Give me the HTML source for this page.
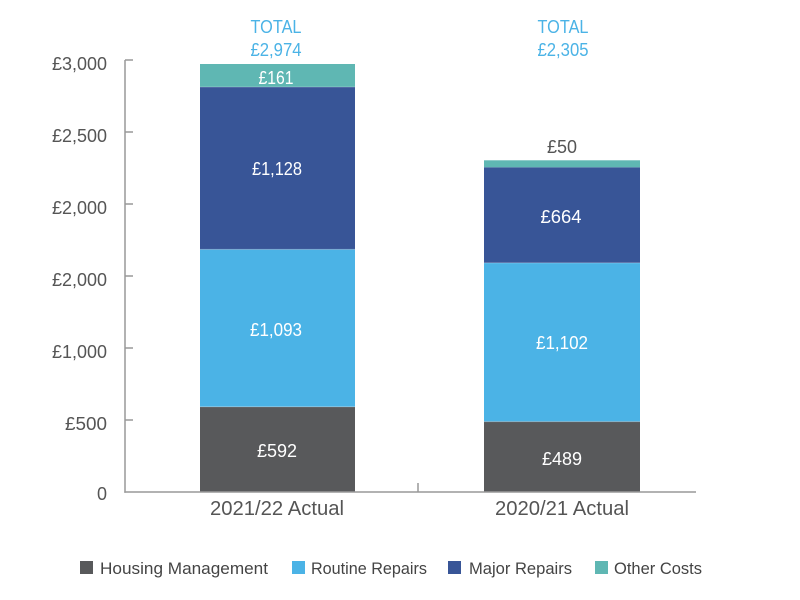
<!DOCTYPE html>
<html><head><meta charset="utf-8"><style>
html,body{margin:0;padding:0;background:#fff;}
svg{display:block;font-family:"Liberation Sans",sans-serif;}
</style></head><body>
<svg width="800" height="600" viewBox="0 0 800 600" xmlns="http://www.w3.org/2000/svg">
<!-- bars -->
<rect x="200" y="406.8" width="155" height="85.2" fill="#58595b"/>
<rect x="200" y="249.4" width="155" height="157.4" fill="#4bb3e6"/>
<rect x="200" y="87" width="155" height="162.4" fill="#385597"/>
<rect x="200" y="64" width="155" height="23" fill="#5fb7b3"/>
<line x1="200" y1="406.8" x2="355" y2="406.8" stroke="#fff" stroke-opacity="0.25" stroke-width="1"/>
<line x1="200" y1="249.4" x2="355" y2="249.4" stroke="#fff" stroke-opacity="0.25" stroke-width="1"/>
<line x1="200" y1="87" x2="355" y2="87" stroke="#fff" stroke-opacity="0.25" stroke-width="1"/>

<rect x="484" y="421.6" width="156" height="70.4" fill="#58595b"/>
<rect x="484" y="262.9" width="156" height="158.7" fill="#4bb3e6"/>
<rect x="484" y="167.3" width="156" height="95.6" fill="#385597"/>
<rect x="484" y="160.3" width="156" height="7" fill="#5fb7b3"/>
<line x1="484" y1="421.6" x2="640" y2="421.6" stroke="#fff" stroke-opacity="0.25" stroke-width="1"/>
<line x1="484" y1="262.9" x2="640" y2="262.9" stroke="#fff" stroke-opacity="0.25" stroke-width="1"/>

<!-- axes -->
<g stroke="#999" stroke-width="1.5" fill="none">
<line x1="125" y1="60" x2="125" y2="492.7"/>
<line x1="124.3" y1="492" x2="696" y2="492"/>
<line x1="125" y1="60" x2="133" y2="60"/>
<line x1="125" y1="132" x2="133" y2="132"/>
<line x1="125" y1="204" x2="133" y2="204"/>
<line x1="125" y1="276" x2="133" y2="276"/>
<line x1="125" y1="348" x2="133" y2="348"/>
<line x1="125" y1="420" x2="133" y2="420"/>
<line x1="418" y1="483" x2="418" y2="492"/>
</g>

<!-- y tick labels -->
<g fill="#555" font-size="18" text-anchor="end">
<text x="107" y="70" textLength="55" lengthAdjust="spacingAndGlyphs">£3,000</text>
<text x="107" y="142" textLength="55" lengthAdjust="spacingAndGlyphs">£2,500</text>
<text x="107" y="214" textLength="55" lengthAdjust="spacingAndGlyphs">£2,000</text>
<text x="107" y="286" textLength="55" lengthAdjust="spacingAndGlyphs">£2,000</text>
<text x="107" y="358" textLength="55" lengthAdjust="spacingAndGlyphs">£1,000</text>
<text x="107" y="430" textLength="42" lengthAdjust="spacingAndGlyphs">£500</text>
<text x="107" y="500">0</text>
</g>

<!-- category labels -->
<g fill="#555" font-size="20" text-anchor="middle">
<text x="277" y="515" textLength="134" lengthAdjust="spacingAndGlyphs">2021/22 Actual</text>
<text x="562" y="515" textLength="134" lengthAdjust="spacingAndGlyphs">2020/21 Actual</text>
</g>

<!-- totals -->
<g fill="#4bb3e6" font-size="18" text-anchor="middle">
<text x="276" y="33" textLength="51" lengthAdjust="spacingAndGlyphs">TOTAL</text>
<text x="276" y="56" textLength="51" lengthAdjust="spacingAndGlyphs">£2,974</text>
<text x="563" y="33" textLength="51" lengthAdjust="spacingAndGlyphs">TOTAL</text>
<text x="563" y="56" textLength="51" lengthAdjust="spacingAndGlyphs">£2,305</text>
</g>

<!-- bar labels -->
<g fill="#fff" font-size="18" text-anchor="middle">
<text x="276" y="84" textLength="35" lengthAdjust="spacingAndGlyphs">£161</text>
<text x="277" y="175" textLength="50" lengthAdjust="spacingAndGlyphs">£1,128</text>
<text x="276" y="336" textLength="52" lengthAdjust="spacingAndGlyphs">£1,093</text>
<text x="277" y="457" textLength="40" lengthAdjust="spacingAndGlyphs">£592</text>
<text x="561" y="223" textLength="41" lengthAdjust="spacingAndGlyphs">£664</text>
<text x="562" y="349" textLength="52" lengthAdjust="spacingAndGlyphs">£1,102</text>
<text x="562" y="465" textLength="40" lengthAdjust="spacingAndGlyphs">£489</text>
</g>
<text x="562" y="153" fill="#555" font-size="18" text-anchor="middle" textLength="30" lengthAdjust="spacingAndGlyphs">£50</text>

<!-- legend -->
<rect x="80" y="561" width="13" height="13" fill="#58595b"/>
<rect x="292" y="561" width="13" height="13" fill="#4bb3e6"/>
<rect x="448" y="561" width="13" height="13" fill="#385597"/>
<rect x="595" y="561" width="13" height="13" fill="#5fb7b3"/>
<g fill="#444" font-size="17">
<text x="100" y="574" textLength="168" lengthAdjust="spacingAndGlyphs">Housing Management</text>
<text x="311" y="574" textLength="116" lengthAdjust="spacingAndGlyphs">Routine Repairs</text>
<text x="469" y="574" textLength="103" lengthAdjust="spacingAndGlyphs">Major Repairs</text>
<text x="614" y="574" textLength="88" lengthAdjust="spacingAndGlyphs">Other Costs</text>
</g>
</svg>
</body></html>
